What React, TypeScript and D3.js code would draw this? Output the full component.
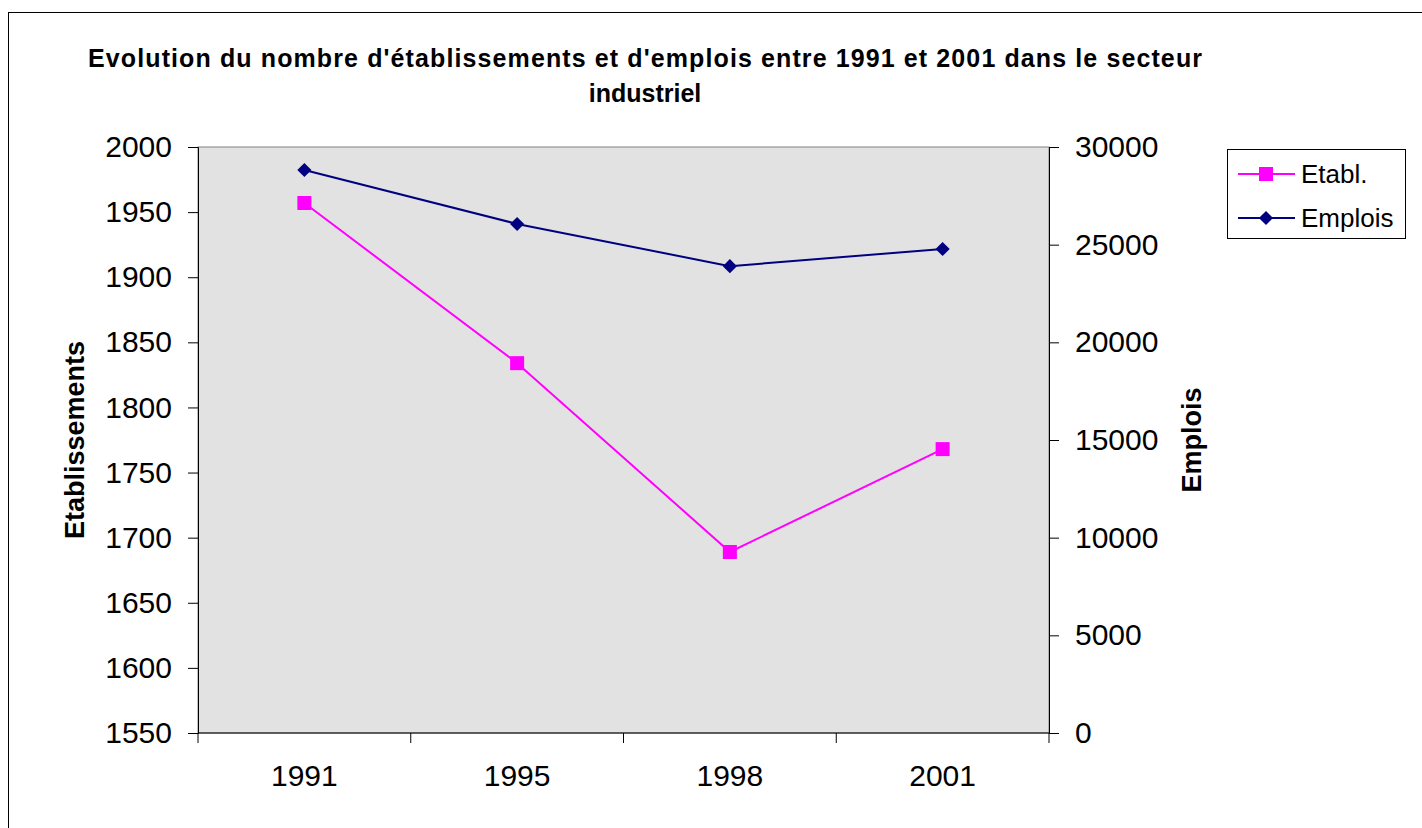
import { useEffect, useRef } from "react";
import * as d3 from "d3";

const years = ["1991", "1995", "1998", "2001"];
const etabl = [1957, 1834, 1689, 1768];
const emplois = [28820, 26060, 23900, 24780];
const leftTicks = [1550, 1600, 1650, 1700, 1750, 1800, 1850, 1900, 1950, 2000];
const rightTicks = [0, 5000, 10000, 15000, 20000, 25000, 30000];

const FONT = "Arial, 'Liberation Sans', sans-serif";

export default function App() {
  const svgRef = useRef<SVGSVGElement | null>(null);

  useEffect(() => {
    if (!svgRef.current) return;
    const svg = d3.select(svgRef.current);
    svg.selectAll("*").remove();

    const left = 198, right = 1049, top = 147, bottom = 733;

    const x = d3.scaleBand().domain(years).range([left, right]);
    const yL = d3.scaleLinear().domain([1550, 2000]).range([bottom, top]);
    const yR = d3.scaleLinear().domain([0, 30000]).range([bottom, top]);

    // outer frame
    svg.append("rect")
      .attr("x", 8.5).attr("y", 12.5).attr("width", 1430).attr("height", 830)
      .attr("fill", "#fff").attr("stroke", "#000").attr("stroke-width", 1);

    // title
    const title = svg.append("text")
      .attr("text-anchor", "middle")
      .attr("font-family", FONT).attr("font-weight", "bold").attr("font-size", 25);
    title.append("tspan").attr("x", 645).attr("y", 67)
      .attr("textLength", 1114).attr("lengthAdjust", "spacing")
      .text("Evolution du nombre d'établissements et d'emplois entre 1991 et 2001 dans le secteur");
    title.append("tspan").attr("x", 645).attr("y", 102).text("industriel");

    // plot area
    svg.append("rect")
      .attr("x", left).attr("y", top).attr("width", right - left).attr("height", bottom - top)
      .attr("fill", "#e2e2e2").attr("stroke", "#808080").attr("stroke-width", 1);

    // left axis
    const gL = svg.append("g").attr("transform", `translate(${left},0)`)
      .call(d3.axisLeft(yL).tickValues(leftTicks).tickSize(10).tickPadding(16).tickFormat(d3.format("d")));
    // right axis
    const gR = svg.append("g").attr("transform", `translate(${right},0)`)
      .call(d3.axisRight(yR).tickValues(rightTicks).tickSize(10).tickPadding(16).tickFormat(d3.format("d")));
    // bottom axis
    const gB = svg.append("g").attr("transform", `translate(0,${bottom})`)
      .call(d3.axisBottom(x).tickSize(0).tickPadding(32));
    const bandTicks = [...years.map(y => x(y)!), right];
    gB.selectAll("line.bt").data(bandTicks).enter().append("line")
      .attr("class", "bt")
      .attr("x1", d => d).attr("x2", d => d).attr("y1", 0).attr("y2", 10)
      .attr("stroke", "#000");

    [gL, gR, gB].forEach(g => {
      g.selectAll("text").attr("font-family", FONT).attr("font-size", 30).attr("fill", "#000");
      g.select(".domain").attr("stroke", "#000");
      g.selectAll(".tick line").attr("stroke", "#000");
    });
    gB.select(".domain").attr("d", `M${left},0H${right}`);

    // axis titles
    svg.append("text")
      .attr("transform", `translate(84,${(top + bottom) / 2}) rotate(-90)`)
      .attr("text-anchor", "middle")
      .attr("font-family", FONT).attr("font-weight", "bold").attr("font-size", 27)
      .text("Etablissements");
    svg.append("text")
      .attr("transform", `translate(1201,${(top + bottom) / 2}) rotate(-90)`)
      .attr("text-anchor", "middle")
      .attr("font-family", FONT).attr("font-weight", "bold").attr("font-size", 27)
      .text("Emplois");

    const cx = (i: number) => x(years[i])! + x.bandwidth() / 2;

    // Emplois line
    const lineR = d3.line<number>().x((_, i) => cx(i)).y(d => yR(d));
    svg.append("path").attr("d", lineR(emplois)!)
      .attr("fill", "none").attr("stroke", "#000080").attr("stroke-width", 2);
    const diamond = d3.symbol().type(d3.symbolSquare).size(100);
    svg.selectAll("path.dia").data(emplois).enter().append("path")
      .attr("class", "dia")
      .attr("d", diamond()!)
      .attr("transform", (d, i) => `translate(${cx(i)},${yR(d)}) rotate(45)`)
      .attr("fill", "#000080");

    // Etabl line
    const lineL = d3.line<number>().x((_, i) => cx(i)).y(d => yL(d));
    svg.append("path").attr("d", lineL(etabl)!)
      .attr("fill", "none").attr("stroke", "#ff00ff").attr("stroke-width", 2);
    svg.selectAll("rect.sq").data(etabl).enter().append("rect")
      .attr("class", "sq")
      .attr("x", (_, i) => cx(i) - 7).attr("y", d => yL(d) - 7)
      .attr("width", 14).attr("height", 14)
      .attr("fill", "#ff00ff");

    // legend
    const lg = svg.append("g");
    lg.append("rect")
      .attr("x", 1227.5).attr("y", 149.5).attr("width", 178).attr("height", 89)
      .attr("fill", "#fff").attr("stroke", "#000");
    const items = [
      { label: "Etabl.", color: "#ff00ff", y: 174, kind: "sq" },
      { label: "Emplois", color: "#000080", y: 218, kind: "dia" },
    ];
    items.forEach(it => {
      lg.append("line").attr("x1", 1238).attr("x2", 1295).attr("y1", it.y).attr("y2", it.y)
        .attr("stroke", it.color).attr("stroke-width", 2);
      if (it.kind === "sq") {
        lg.append("rect").attr("x", 1259).attr("y", it.y - 7).attr("width", 14).attr("height", 14)
          .attr("fill", it.color);
      } else {
        lg.append("path").attr("d", diamond()!)
          .attr("transform", `translate(1266,${it.y}) rotate(45)`).attr("fill", it.color);
      }
      lg.append("text").attr("x", 1301).attr("y", it.y + 9)
        .attr("font-family", FONT).attr("font-size", 26).text(it.label);
    });
  }, []);

  return <svg ref={svgRef} width={1422} height={828} style={{ position: "absolute", left: 0, top: 0 }} />;
}
